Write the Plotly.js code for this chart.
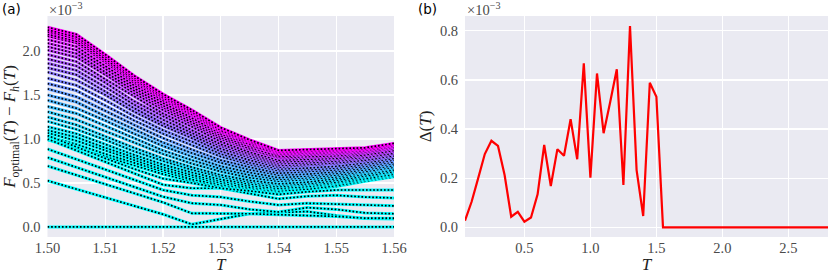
<!DOCTYPE html>
<html><head><meta charset="utf-8">
<script src="https://cdn.plot.ly/plotly-3.0.1.min.js"></script>
<style>html,body{margin:0;padding:0;background:#fff}#chart{width:831px;height:275px}</style>
</head><body><div id="chart"></div>
<script>
// ---- panel (a): F_optimal(T) - F_h(T), units of 1e-3 ----
const T_a = [1.500,1.505,1.510,1.515,1.520,1.525,1.530,1.535,1.540,1.545,1.550,1.555,1.560];
const c00 = [0,0,0,0,0,0,0,0,0,0,0,0,0];
const c01 = [0.526,0.43,0.335,0.24,0.144,0.03,0.09,0.15,0.165,0.175,0.13,0.095,0.09];
const c02 = [0.693,0.59,0.49,0.385,0.28,0.155,0.155,0.15,0.14,0.13,0.12,0.10,0.10];
const c03 = [0.79,0.68,0.57,0.46,0.344,0.27,0.25,0.20,0.17,0.22,0.20,0.16,0.15];
const c04 = [0.886,0.77,0.65,0.535,0.42,0.36,0.34,0.29,0.25,0.27,0.26,0.25,0.24];
const c05 = [0.99,0.90,0.80,0.70,0.60,0.52,0.46,0.42,0.40,0.42,0.46,0.52,0.57];
const c06 = [1.00,0.87,0.74,0.61,0.48,0.44,0.44,0.38,0.32,0.35,0.36,0.34,0.33];
const c07 = [1.03,0.94,0.83,0.73,0.63,0.54,0.48,0.44,0.41,0.43,0.47,0.53,0.58];
const c08 = [1.04,0.91,0.78,0.66,0.55,0.50,0.44,0.41,0.37,0.40,0.42,0.42,0.42];
const c09 = [1.07,0.98,0.87,0.76,0.65,0.57,0.50,0.45,0.43,0.45,0.49,0.54,0.59];
const c10 = [1.10,1.02,0.90,0.79,0.68,0.59,0.52,0.47,0.44,0.46,0.50,0.55,0.60];
const c11 = [1.14,1.06,0.94,0.82,0.71,0.62,0.54,0.49,0.46,0.48,0.51,0.57,0.62];
const c12 = [1.20,1.11,0.99,0.86,0.75,0.65,0.57,0.51,0.48,0.49,0.53,0.58,0.63];
const c13 = [1.25,1.16,1.03,0.90,0.78,0.68,0.59,0.53,0.49,0.51,0.55,0.60,0.65];
const c14 = [1.31,1.22,1.09,0.96,0.83,0.72,0.63,0.56,0.52,0.54,0.57,0.62,0.67];
const c15 = [1.37,1.29,1.15,1.01,0.87,0.76,0.66,0.59,0.54,0.56,0.59,0.63,0.68];
const c16 = [1.44,1.35,1.21,1.06,0.92,0.80,0.69,0.62,0.56,0.58,0.61,0.65,0.70];
const c17 = [1.50,1.42,1.26,1.11,0.96,0.84,0.73,0.65,0.59,0.60,0.63,0.67,0.72];
const c18 = [1.57,1.48,1.32,1.16,1.01,0.88,0.76,0.68,0.61,0.63,0.65,0.69,0.74];
const c19 = [1.63,1.55,1.38,1.21,1.06,0.93,0.80,0.71,0.64,0.65,0.67,0.71,0.76];
const c20 = [1.69,1.61,1.44,1.26,1.10,0.97,0.83,0.73,0.66,0.67,0.69,0.73,0.78];
const c21 = [1.76,1.67,1.50,1.31,1.15,1.01,0.86,0.76,0.68,0.70,0.72,0.75,0.80];
const c22 = [1.81,1.73,1.54,1.35,1.18,1.04,0.89,0.79,0.70,0.71,0.73,0.76,0.81];
const c23 = [1.86,1.78,1.59,1.39,1.22,1.07,0.92,0.81,0.72,0.73,0.75,0.78,0.83];
const c24 = [1.91,1.83,1.64,1.43,1.26,1.10,0.94,0.83,0.74,0.75,0.77,0.79,0.84];
const c25 = [1.96,1.88,1.68,1.48,1.29,1.14,0.97,0.85,0.76,0.77,0.78,0.81,0.86];
const c26 = [2.01,1.93,1.73,1.52,1.33,1.17,1.00,0.88,0.78,0.79,0.80,0.82,0.87];
const c27 = [2.05,1.97,1.76,1.55,1.36,1.19,1.02,0.89,0.79,0.80,0.81,0.84,0.89];
const c28 = [2.09,2.01,1.80,1.58,1.38,1.22,1.04,0.91,0.80,0.82,0.83,0.85,0.90];
const c29 = [2.13,2.05,1.83,1.61,1.41,1.24,1.06,0.93,0.82,0.83,0.84,0.86,0.91];
const c30 = [2.17,2.09,1.87,1.64,1.44,1.27,1.08,0.94,0.83,0.84,0.85,0.87,0.92];
const c31 = [2.19,2.11,1.89,1.66,1.46,1.28,1.09,0.96,0.84,0.85,0.86,0.88,0.93];
const c32 = [2.22,2.14,1.91,1.68,1.47,1.30,1.10,0.97,0.85,0.86,0.87,0.89,0.94];
const c33 = [2.24,2.16,1.94,1.70,1.49,1.31,1.12,0.98,0.86,0.87,0.88,0.89,0.94];
const c34 = [2.27,2.19,1.96,1.72,1.51,1.33,1.13,0.99,0.87,0.88,0.885,0.90,0.95];
// thin white curves visible inside the bundle
const w1 = [2.11,2.03,1.81,1.60,1.40,1.23,1.05,0.92,0.81,0.82,0.835,0.855,0.905];
const w2 = [1.66,1.58,1.41,1.23,1.08,0.95,0.81,0.72,0.65,0.66,0.68,0.72,0.77];
const w3 = [1.40,1.32,1.18,1.03,0.89,0.78,0.67,0.60,0.55,0.57,0.60,0.64,0.69];
const w4 = [1.18,1.09,0.97,0.85,0.74,0.64,0.56,0.50,0.47,0.49,0.52,0.57,0.62];

const xTicks_a = [1.50,1.51,1.52,1.53,1.54,1.55,1.56];
const xLabels_a = ['1.50','1.51','1.52','1.53','1.54','1.55','1.56'];
const yTicks_a = [0,0.5,1.0,1.5,2.0];
const yLabels_a = ['0.0','0.5','1.0','1.5','2.0'];

// ---- panel (b): Delta(T), units of 1e-3 ----
const T_b = [0.05,0.10,0.15,0.20,0.25,0.30,0.35,0.40,0.45,0.50,0.55,0.60,0.65,0.70,0.75,0.80,0.85,0.90,0.95,1.00,
  1.05,1.10,1.15,1.20,1.25,1.30,1.35,1.40,1.45,1.50,1.55,1.60,1.65,1.70,1.75,1.80,1.85,1.90,1.95,2.00,
  2.05,2.10,2.15,2.20,2.25,2.30,2.35,2.40,2.45,2.50,2.55,2.60,2.65,2.70,2.75,2.80];
const delta_b = [0.027,0.104,0.20,0.298,0.352,0.331,0.213,0.043,0.063,0.023,0.040,0.134,0.335,0.168,0.318,0.291,0.440,0.277,0.667,0.202,
  0.626,0.383,0.51,0.643,0.172,0.819,0.233,0.046,0.588,0.531,0,0,0,0,0,0,0,0,0,0,
  0,0,0,0,0,0,0,0,0,0,0,0,0,0,0,0];
const xTicks_b = [0.5,1.0,1.5,2.0,2.5];
const xLabels_b = ['0.5','1.0','1.5','2.0','2.5'];
const yTicks_b = [0,0.2,0.4,0.6,0.8];
const yLabels_b = ['0.0','0.2','0.4','0.6','0.8'];

const colouredLines = [c00,c01,c02,c03,c04,c05,c06,c07,c08,c09,c10,c11,c12,c13,c14,c15,c16,c17,
  c18,c19,c20,c21,c22,c23,c24,c25,c26,c27,c28,c29,c30,c31,c32,c33,c34];
const whiteLines = [w1,w2,w3,w4];

function cool(t){ t=Math.max(0,Math.min(1,t)); return 'rgb('+Math.round(255*t)+','+Math.round(255*(1-t))+',255)'; }

const traces = [];
whiteLines.forEach(l=>traces.push({x:T_a,y:l,mode:'lines',line:{color:'#ffffff',width:1.3},hoverinfo:'skip',xaxis:'x',yaxis:'y'}));
colouredLines.forEach(l=>{
  const t=Math.pow(Math.max(0,(l[0]-1.0)/1.27),1.2);
  traces.push({x:T_a,y:l,mode:'lines',line:{color:cool(t),width:3},hoverinfo:'skip',xaxis:'x',yaxis:'y'});
  traces.push({x:T_a,y:l,mode:'lines',line:{color:'#000000',width:1.7,dash:'1.7px,1.9px'},hoverinfo:'skip',xaxis:'x',yaxis:'y'});
});
traces.push({x:T_b,y:delta_b,mode:'lines',line:{color:'#ff0000',width:2.2},hoverinfo:'skip',xaxis:'x2',yaxis:'y2'});

const tickFont = {family:'"Liberation Serif", serif', size:14.5, color:'#4a4a4a'};
const titleFont = {family:'"Liberation Serif", serif', size:17, color:'#222'};
const base = {showline:false, zeroline:false, showgrid:true, gridcolor:'#ffffff', gridwidth:1.3,
  ticks:'', tickfont:tickFont, tickmode:'array', automargin:false};
const yDom = [1-237/275, 1-16/275];

const layout = {
  width:831, height:275, margin:{l:0,r:0,t:0,b:0},
  paper_bgcolor:'#ffffff', plot_bgcolor:'#EAEAF2', showlegend:false,
  xaxis:Object.assign({}, base, {domain:[47.5/831, 394/831], range:[1.5,1.56], tickvals:xTicks_a, ticktext:xLabels_a, anchor:'y',
    title:{text:'<i>T</i>', font:titleFont, standoff:1}}),
  yaxis:Object.assign({}, base, {domain:yDom, range:[-0.114,2.398], tickvals:yTicks_a, ticktext:yLabels_a, anchor:'x',
    ticks:'outside', ticklen:3, tickcolor:'rgba(0,0,0,0)',
    title:{text:'<i>F</i><sub>optimal</sub>(<i>T</i>) − <i>F</i><sub><i>h</i></sub>(<i>T</i>)', font:titleFont, standoff:4}}),
  xaxis2:Object.assign({}, base, {domain:[465/831, 828/831], range:[0.05,2.8], tickvals:xTicks_b, ticktext:xLabels_b, anchor:'y2',
    title:{text:'<i>T</i>', font:titleFont, standoff:1}}),
  yaxis2:Object.assign({}, base, {domain:yDom, range:[-0.0395,0.86], tickvals:yTicks_b, ticktext:yLabels_b, anchor:'x2',
    ticks:'outside', ticklen:3, tickcolor:'rgba(0,0,0,0)',
    title:{text:'Δ(<i>T</i>)', font:titleFont, standoff:4}}),
  annotations:[
    {text:'(a)', xref:'paper', yref:'paper', x:0, y:1, xanchor:'left', yanchor:'top', yshift:1, showarrow:false,
      font:{family:'"DejaVu Sans", sans-serif', size:13.5, color:'#000'}},
    {text:'(b)', xref:'paper', yref:'paper', x:416/831, y:1, xanchor:'left', yanchor:'top', yshift:1, showarrow:false,
      font:{family:'"DejaVu Sans", sans-serif', size:13.5, color:'#000'}},
    {text:'×10<sup>−3</sup>', xref:'paper', yref:'paper', x:47/831, y:1, xanchor:'left', yanchor:'top', yshift:2, showarrow:false,
      font:{family:'"Liberation Serif", serif', size:14.5, color:'#4a4a4a'}},
    {text:'×10<sup>−3</sup>', xref:'paper', yref:'paper', x:465/831, y:1, xanchor:'left', yanchor:'top', yshift:2, showarrow:false,
      font:{family:'"Liberation Serif", serif', size:14.5, color:'#4a4a4a'}}
  ]
};
Plotly.newPlot('chart', traces, layout, {staticPlot:true, displayModeBar:false});
</script></body></html>
